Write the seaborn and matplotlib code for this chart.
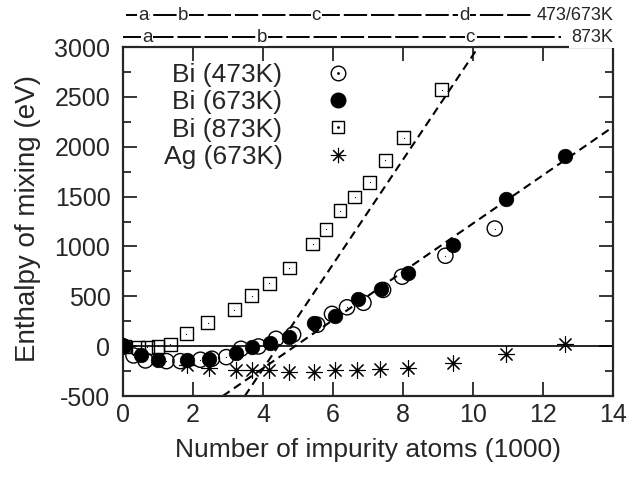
import numpy as np
import pandas as pd
import matplotlib
matplotlib.use("Agg")
import matplotlib.pyplot as plt
import matplotlib.transforms as mtransforms
from matplotlib.lines import Line2D
from matplotlib.ticker import MultipleLocator
import seaborn as sns

# data (x in thousands of impurity atoms, y in eV)
bi473_x = [0.0, 0.30, 0.64, 1.24, 1.64, 2.21, 2.54, 2.95, 3.37, 3.87, 4.37, 4.86, 5.55, 5.97, 6.40, 6.87, 7.43, 7.97, 9.21, 10.62]
bi473_y = [0, -93, -143, -150, -150, -136, -126, -110, -26, -3, 74, 117, 215, 324, 390, 435, 564, 697, 907, 1180]

bi673_x = [0.04, 0.51, 0.99, 1.83, 2.45, 3.24, 3.68, 4.21, 4.75, 5.45, 6.07, 6.72, 7.37, 8.14, 9.42, 10.94, 12.64]
bi673_y = [0, -93, -136, -143, -126, -70, -10, 30, 90, 230, 307, 474, 574, 730, 1017, 1480, 1907]

bi873_x = [0.04, 0.44, 0.69, 1.0, 1.35, 1.81, 2.42, 3.18, 3.68, 4.18, 4.75, 5.42, 5.80, 6.20, 6.62, 7.05, 7.49, 8.02, 9.11]
bi873_y = [0, -15, -10, 0, 17, 124, 237, 364, 507, 630, 784, 1024, 1174, 1357, 1497, 1645, 1864, 2090, 2574]

ag673_x = [0.04, 1.83, 2.45, 3.24, 3.68, 4.18, 4.73, 5.45, 6.05, 6.69, 7.35, 8.14, 9.42, 10.94, 12.64]
ag673_y = [0, -193, -216, -243, -243, -243, -260, -260, -243, -236, -226, -216, -170, -83, 24]

fit_steep_x = [3.48, 10.15]
fit_steep_y = [-500, 3000]
fit_shallow_x = [2.85, 14.0]
fit_shallow_y = [-500, 2200]

# phase labels above the plot
row1_pos = [0.58, 1.72, 5.52, 9.75]
row1_lab = ["a", "b", "c", "d"]
row2_pos = [0.69, 3.98, 9.92]
row2_lab = ["a", "b", "c"]

sns.set_style("ticks")
plt.rcParams["font.family"] = ["Liberation Sans", "DejaVu Sans"]
plt.rcParams["axes.unicode_minus"] = False

fig = plt.figure(figsize=(6.34, 4.78), dpi=100)
ax = fig.add_axes([0.194, 0.1715, 0.773, 0.730])

ax.axhline(0, color="black", lw=1.2, zorder=1)
ax.plot(fit_steep_x, fit_steep_y, ls=(0, (4, 2.5)), color="black", lw=1.5, zorder=2)
ax.plot(fit_shallow_x, fit_shallow_y, ls=(0, (4, 2.5)), color="black", lw=1.5, zorder=2)

star = (8, 2, 0)
df473 = pd.DataFrame({"x": bi473_x, "y": bi473_y})
df673 = pd.DataFrame({"x": bi673_x, "y": bi673_y})
df873 = pd.DataFrame({"x": bi873_x, "y": bi873_y})
dfag = pd.DataFrame({"x": ag673_x, "y": ag673_y})

sns.scatterplot(data=df873, x="x", y="y", ax=ax, marker="s", s=85,
                facecolor="none", edgecolor="black", linewidth=1.0, zorder=3)
sns.scatterplot(data=df873, x="x", y="y", ax=ax, marker=".", s=3, color="black", linewidth=0, zorder=3)
sns.scatterplot(data=dfag, x="x", y="y", ax=ax, marker=star, s=130,
                color="black", linewidth=0.8, zorder=3)
sns.scatterplot(data=df473, x="x", y="y", ax=ax, marker="o", s=120,
                facecolor="none", edgecolor="black", linewidth=1.0, zorder=4)
sns.scatterplot(data=df473, x="x", y="y", ax=ax, marker=".", s=3, color="black", linewidth=0, zorder=4)
sns.scatterplot(data=df673, x="x", y="y", ax=ax, marker="o", s=110,
                color="black", edgecolor="black", linewidth=0.5, zorder=5)

ax.set_xlim(0, 14)
ax.set_ylim(-500, 3000)
ax.xaxis.set_major_locator(MultipleLocator(2))
ax.yaxis.set_major_locator(MultipleLocator(500))
ax.yaxis.set_minor_locator(MultipleLocator(250))
ax.tick_params(which="both", direction="in", top=True, right=True, labelsize=18, width=1.3)
ax.tick_params(axis="x", pad=5)
ax.tick_params(axis="y", pad=9)
ax.tick_params(which="major", length=10)
ax.tick_params(which="minor", length=6)
for sp in ax.spines.values():
    sp.set_linewidth(1.6)
    sp.set_visible(True)

ax.set_xlabel("Number of impurity atoms (1000)", fontsize=19, labelpad=8)
ax.set_ylabel("Enthalpy of mixing (eV)", fontsize=20)
ax.yaxis.set_label_coords(-0.168, 0.51)

# legend: labels right-aligned, markers on the right
h473 = (Line2D([], [], ls="none", marker="o", ms=10.5, mfc="none", mec="black", mew=1.0),
        Line2D([], [], ls="none", marker=".", ms=2, color="black"))
h673 = Line2D([], [], ls="none", marker="o", ms=10.5, color="black")
h873 = (Line2D([], [], ls="none", marker="s", ms=9, mfc="none", mec="black", mew=1.0),
        Line2D([], [], ls="none", marker=".", ms=2, color="black"))
hag = Line2D([], [], ls="none", marker=star, ms=11, color="black", mew=0.8)
ax.legend([h473, h673, h873, hag], ["Bi (473K)", "Bi (673K)", "Bi (873K)", "Ag (673K)"],
          markerfirst=False, frameon=False, fontsize=19, loc="upper right",
          bbox_to_anchor=(0.511, 0.999), labelspacing=0.12, handlelength=1.5,
          handletextpad=1.35, borderaxespad=0.2)

# phase bars above the axes
trans = mtransforms.blended_transform_factory(ax.transData, fig.transFigure)
y1 = 1 - 15 / 478
y2 = 1 - 37 / 478
ax.plot([0.1, 11.8], [y1, y1], transform=trans, clip_on=False, color="black", lw=1.4, ls=(0, (12, 2)))
ax.plot([0.0, 12.5], [y2, y2], transform=trans, clip_on=False, color="black", lw=1.4, ls=(0, (12, 2)))
for xp, lb in zip(row1_pos, row1_lab):
    ax.text(xp, y1, lb, transform=trans, ha="center", va="center", fontsize=13.5,
            bbox=dict(facecolor="white", edgecolor="none", pad=0.5))
for xp, lb in zip(row2_pos, row2_lab):
    ax.text(xp, y2, lb, transform=trans, ha="center", va="center", fontsize=13.5,
            bbox=dict(facecolor="white", edgecolor="none", pad=0.5))
ax.text(14, y1, "473/673K", transform=trans, ha="right", va="center", fontsize=13,
        bbox=dict(facecolor="white", edgecolor="none", pad=1.5))
ax.text(14, y2, "873K", transform=trans, ha="right", va="center", fontsize=13,
        bbox=dict(facecolor="white", edgecolor="none", pad=1.5))

fig.savefig("out.png", dpi=100)
